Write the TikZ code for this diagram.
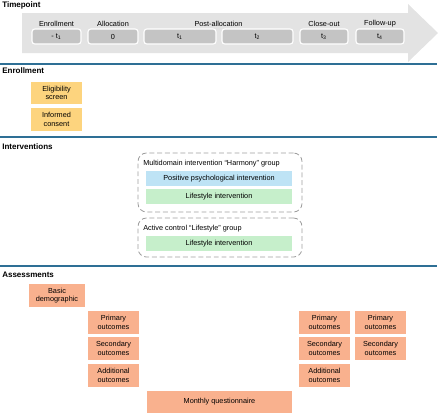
\documentclass[tikz,border=0pt]{standalone}
\usepackage{fontspec}
\setmainfont{Liberation Sans}
\usepackage{tikz}
\definecolor{lineblue}{HTML}{2E6F95}
\definecolor{arrowgray}{HTML}{E3E3E3}
\definecolor{boxgray}{HTML}{C4C4C4}
\definecolor{dashgray}{HTML}{A0A0A0}
\definecolor{enrolyellow}{HTML}{FDD47E}
\definecolor{psyblue}{HTML}{BEE3F5}
\definecolor{lifegreen}{HTML}{C6EFCB}
\definecolor{assesssalmon}{HTML}{F9B18E}
\begin{document}
\begin{tikzpicture}[x=0.025cm,y=-0.025cm]
							\tikzstyle{header}=[anchor=west,inner sep=0pt,font=\fontsize{5.7}{6.5}\selectfont\bfseries]
							\tikzstyle{label}=[inner sep=0pt,font=\fontsize{5.2}{6}\selectfont]
							\tikzstyle{tbox}=[rounded corners=2pt,draw=white,line width=0.8pt,fill=boxgray,minimum height=15*0.025cm,inner sep=0pt,font=\fontsize{5.2}{6}\selectfont]
							\tikzstyle{cell}=[inner sep=0pt,align=center,minimum width=51*0.025cm,minimum height=23*0.025cm,font=\fontsize{5.2}{6}\selectfont]
							\tikzstyle{bar}=[inner sep=0pt,minimum width=146*0.025cm,minimum height=15*0.025cm,font=\fontsize{5.2}{6}\selectfont]
							\tikzstyle{group}=[draw=dashgray,dash pattern=on 3.5pt off 2pt,line width=0.6pt,rounded corners=6pt,inner sep=0pt,minimum width=164*0.025cm]
							\tikzstyle{sep}=[draw=lineblue,line width=0.8pt]
							\useasboundingbox (0,0) rectangle (440,417);
							\fill[arrowgray] (22,13) -- (408,13) -- (408,4) -- (438,33) -- (408,62) -- (408,53) -- (22,53) -- cycle;
							\node[header] (hTime) at (2,5) {Timepoint};
							\node[label] (lEnrol) at (56.5,24) {Enrollment};
							\node[label] (lAlloc) at (113,24) {Allocation};
							\node[label] (lPost) at (218.5,24) {Post-allocation};
							\node[label] (lClose) at (324,24) {Close-out};
							\node[label] (lFollow) at (380,24) {Follow-up};
							\node[tbox,minimum width=49*0.025cm] (t0) at (56.5,36.5) {- t\textsubscript{1}};
							\node[tbox,minimum width=50*0.025cm] (t1) at (113,36.5) {0};
							\node[tbox,minimum width=72*0.025cm] (t2) at (180,36.5) {t\textsubscript{1}};
							\node[tbox,minimum width=71*0.025cm] (t3) at (257.5,36.5) {t\textsubscript{2}};
							\node[tbox,minimum width=48*0.025cm] (t4) at (324,36.5) {t\textsubscript{3}};
							\node[tbox,minimum width=48*0.025cm] (t5) at (380,36.5) {t\textsubscript{4}};
							\coordinate (s1a) at (0,64);
							\coordinate (s1b) at (437,64);
							\draw[sep] (s1a) -- (s1b);
							\node[header] (hEnrol) at (2,71) {Enrollment};
							\node[cell,fill=enrolyellow,minimum height=22*0.025cm] (elig) at (56.5,93) {Eligibility\\screen};
							\node[cell,fill=enrolyellow] (consent) at (56.5,119.5) {Informed\\consent};
							\coordinate (s2a) at (0,137);
							\coordinate (s2b) at (437,137);
							\draw[sep] (s2a) -- (s2b);
							\node[header] (hInterv) at (2,147) {Interventions};
							\node[group,minimum height=59*0.025cm] (harmony) at (220,182.5) {};
							\node[label,anchor=west] (harmonyT) at (143,164) {Multidomain intervention “Harmony” group};
							\node[bar,fill=psyblue] (psy) at (219,178.5) {Positive psychological intervention};
							\node[bar,fill=lifegreen] (life1) at (219,196.5) {Lifestyle intervention};
							\node[group,minimum height=39*0.025cm] (control) at (220,237.5) {};
							\node[label,anchor=west] (controlT) at (143,229) {Active control “Lifestyle” group};
							\node[bar,fill=lifegreen] (life2) at (219,243.5) {Lifestyle intervention};
							\coordinate (s3a) at (0,266);
							\coordinate (s3b) at (437,266);
							\draw[sep] (s3a) -- (s3b);
							\node[header] (hAssess) at (2,275) {Assessments};
							\node[cell,fill=assesssalmon,minimum width=56*0.025cm] (demo) at (57,295.5) {Basic\\demographic};
							\node[cell,fill=assesssalmon] (prim1) at (113.5,322.5) {Primary\\outcomes};
							\node[cell,fill=assesssalmon] (sec1) at (113.5,348.5) {Secondary\\outcomes};
							\node[cell,fill=assesssalmon] (add1) at (113.5,375.5) {Additional\\outcomes};
							\node[cell,fill=assesssalmon,minimum width=145*0.025cm,minimum height=22*0.025cm] (monthly) at (219.5,402) {Monthly questionnaire};
							\node[cell,fill=assesssalmon] (prim3) at (324.5,322.5) {Primary\\outcomes};
							\node[cell,fill=assesssalmon] (sec3) at (324.5,348.5) {Secondary\\outcomes};
							\node[cell,fill=assesssalmon] (add3) at (324.5,375.5) {Additional\\outcomes};
							\node[cell,fill=assesssalmon] (prim4) at (380.5,322.5) {Primary\\outcomes};
							\node[cell,fill=assesssalmon] (sec4) at (380.5,348.5) {Secondary\\outcomes};
							\end{tikzpicture}
\end{document}
